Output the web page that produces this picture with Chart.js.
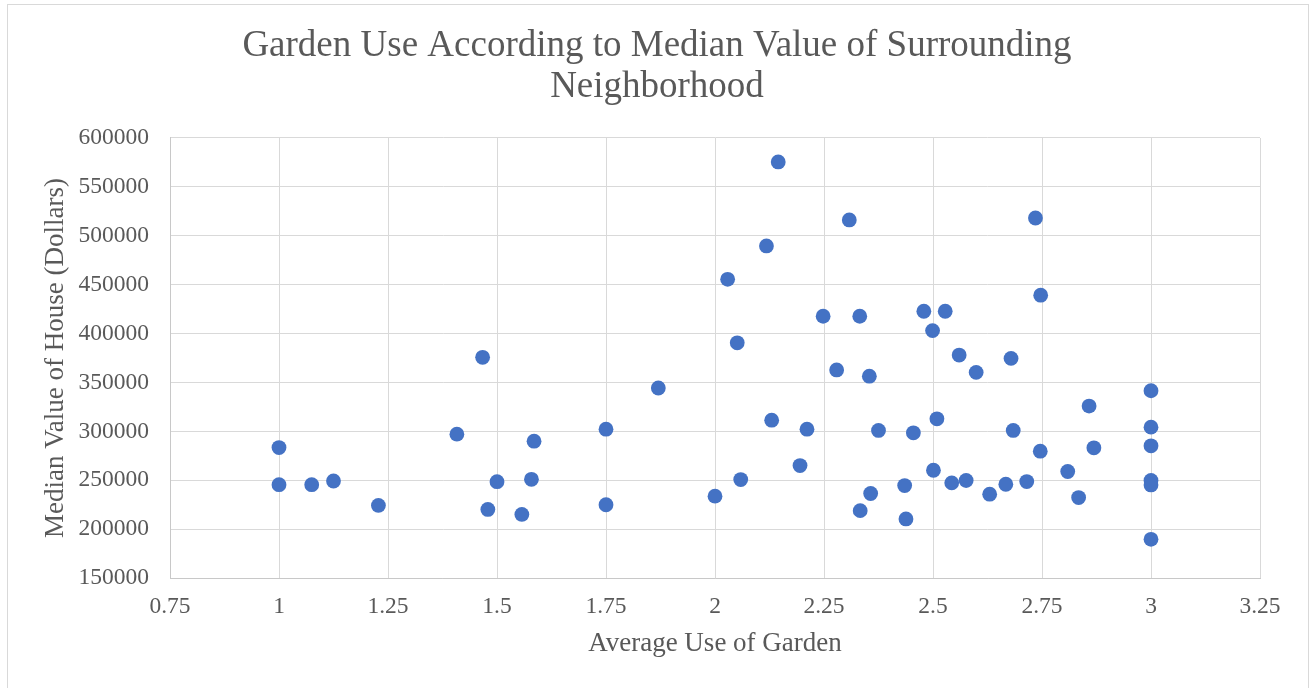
<!DOCTYPE html>
<html>
<head>
<meta charset="utf-8">
<script src="https://cdn.jsdelivr.net/npm/chart.js@4/dist/chart.umd.min.js"></script>
<style>
  html, body { margin: 0; padding: 0; background: #fff; }
  #wrap { position: relative; width: 1314px; height: 688px; }
  #frame { position: absolute; left: 7px; top: 4px; width: 1302px; height: 700px; border: 1px solid #d9d9d9; box-sizing: border-box; pointer-events: none; }
</style>
</head>
<body>
<div id="wrap">
  <canvas id="chart" width="1314" height="688"></canvas>
  <div id="frame"></div>
</div>
<script>
// data
const gardenUse = [
  1.0, 1.0, 1.075, 1.125, 1.228, 1.408, 1.467, 1.479, 1.5, 1.557, 1.579, 1.585, 1.75, 1.75, 1.87,
  2.0, 2.029, 2.051, 2.059, 2.118, 2.13, 2.145, 2.195, 2.211, 2.248, 2.279, 2.308, 2.332, 2.333,
  2.354, 2.357, 2.375, 2.435, 2.438, 2.455, 2.479, 2.499, 2.501, 2.509, 2.528, 2.543, 2.56, 2.576,
  2.599, 2.63, 2.667, 2.679, 2.684, 2.715, 2.735, 2.746, 2.747, 2.809, 2.834, 2.858, 2.869,
  3.0, 3.0, 3.0, 3.0, 3.0, 3.0
];
const medianValue = [
  283400, 245400, 245400, 249200, 224200, 297100, 375700, 220100, 248500, 215000, 250900, 289900, 302200, 224900, 344300,
  233700, 455500, 390500, 250700, 489600, 311400, 575500, 265000, 302200, 417700, 362800, 516200, 417700, 218900,
  356400, 236400, 300900, 244500, 210400, 298500, 422800, 403000, 260200, 312800, 422800, 247300, 378000, 249700,
  360300, 235700, 245900, 374600, 300900, 248600, 518200, 279700, 439200, 258900, 232300, 325800, 283100,
  341500, 304300, 285200, 249700, 245200, 189600
];
const xTicks = { min: 0.75, max: 3.25, step: 0.25 };
const yTicks = { min: 150000, max: 600000, step: 50000 };
const titleLines = ["Garden Use According to Median Value of Surrounding", "Neighborhood"];
const xTitle = "Average Use of Garden";
const yTitle = "Median Value of House (Dollars)";

const points = gardenUse.map((x, i) => ({ x, y: medianValue[i] }));
const serif = "'Liberation Serif', 'Times New Roman', serif";
const grey = "#595959";

new Chart(document.getElementById("chart").getContext("2d"), {
  type: 'scatter',
  data: {
    datasets: [{
      data: points,
      backgroundColor: '#4472C4',
      borderWidth: 0,
      pointRadius: 7.4,
      pointHoverRadius: 7.4
    }]
  },
  options: {
    responsive: false,
    animation: false,
    layout: { padding: 0 },
    plugins: {
      legend: { display: false },
      tooltip: { enabled: false },
      title: {
        display: true,
        text: titleLines,
        color: grey,
        font: { family: serif, size: 37, weight: 'normal', lineHeight: 1.108 },
        padding: { top: 26, bottom: 30 }
      }
    },
    scales: {
      x: {
        type: 'linear',
        min: xTicks.min, max: xTicks.max,
        afterFit: s => { s.height = 110; },
        ticks: {
          stepSize: xTicks.step,
          color: grey,
          padding: 15,
          font: { family: serif, size: 23.5 },
          callback: v => String(Math.round(v * 100) / 100)
        },
        grid: { color: '#d9d9d9', lineWidth: 1, drawTicks: false },
        border: { color: '#c8c8c8', width: 1 },
        title: {
          display: true, text: xTitle, color: grey,
          font: { family: serif, size: 27 },
          padding: { top: 0, bottom: 28 }
        }
      },
      y: {
        type: 'linear',
        min: yTicks.min, max: yTicks.max,
        afterFit: s => { s.width = 170; },
        ticks: {
          stepSize: yTicks.step,
          color: grey,
          padding: 21,
          font: { family: serif, size: 23.5 },
          callback: v => String(v)
        },
        grid: { color: '#d9d9d9', lineWidth: 1, drawTicks: false },
        border: { color: '#c8c8c8', width: 1 },
        title: {
          display: true, text: yTitle, color: grey,
          font: { family: serif, size: 27 },
          padding: { top: 40, bottom: 0 }
        }
      },
      // empty spacer on the right so the title stays centred on the whole card
      spacer: {
        type: 'linear',
        position: 'right',
        afterFit: s => { s.width = 54; },
        ticks: { display: false },
        grid: { display: false, drawOnChartArea: false },
        border: { display: false }
      }
    }
  }
});
</script>
</body>
</html>
